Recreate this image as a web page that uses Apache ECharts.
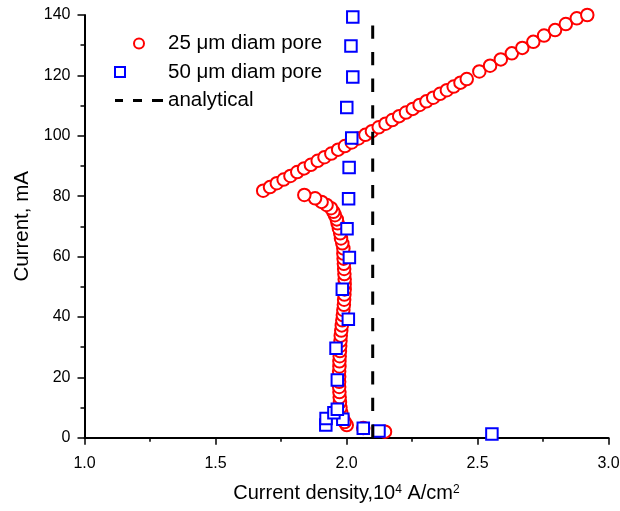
<!DOCTYPE html>
<html>
<head>
<meta charset="utf-8">
<script src="https://cdn.jsdelivr.net/npm/echarts@6/dist/echarts.min.js"></script>
<style>
  html, body { margin: 0; padding: 0; background: #fff; }
  #chart { width: 620px; height: 511px; }
</style>
</head>
<body>
<div id="chart"></div>
<script>
var seriesNames = ['25 \u03bcm diam pore', '50 \u03bcm diam pore', 'analytical'];

// 25 um pore, lower (S shaped) branch, read bottom to top
var pore25Lower = [
    [2.147, 2.0], [2.064, 3.2], [2.001, 4.2], [1.993, 5.2], [1.986, 6.6],
    [1.980, 8.3], [1.977, 10.0], [1.975, 11.7], [1.974, 13.4], [1.973, 15.1],
    [1.972, 16.8], [1.972, 18.5], [1.972, 20.2], [1.972, 21.9], [1.973, 23.6],
    [1.973, 25.3], [1.974, 27.0], [1.975, 28.7], [1.976, 30.4], [1.977, 32.1],
    [1.978, 33.8], [1.980, 35.5], [1.982, 37.2], [1.984, 38.9], [1.986, 40.6],
    [1.988, 42.3], [1.990, 44.0], [1.991, 45.7], [1.992, 47.4], [1.993, 49.1],
    [1.993, 50.8], [1.993, 52.5], [1.992, 54.2], [1.991, 55.9], [1.990, 57.6],
    [1.989, 59.3], [1.988, 61.0], [1.988, 62.7], [1.984, 64.4], [1.979, 66.0],
    [1.976, 67.7], [1.971, 69.3], [1.966, 71.0], [1.963, 72.3], [1.956, 73.7],
    [1.950, 74.8], [1.941, 76.0], [1.924, 77.1], [1.905, 78.1], [1.880, 79.3],
    [1.839, 80.4]
];

// 25 um pore, upper (straight) branch
var pore25Upper = [
    [1.682, 81.8], [1.708, 83.0], [1.734, 84.3], [1.760, 85.5], [1.786, 86.7],
    [1.812, 88.0], [1.838, 89.2], [1.864, 90.4], [1.890, 91.7], [1.916, 92.9],
    [1.942, 94.1], [1.968, 95.4], [1.994, 96.6], [2.020, 97.8], [2.046, 99.1],
    [2.072, 100.3], [2.097, 101.5], [2.123, 102.8], [2.149, 104.0], [2.175, 105.2],
    [2.201, 106.5], [2.227, 107.7], [2.253, 108.9], [2.279, 110.2], [2.305, 111.4],
    [2.331, 112.6], [2.357, 113.9], [2.383, 115.1], [2.409, 116.3], [2.435, 117.6],
    [2.459, 118.8], [2.507, 121.3], [2.548, 123.2], [2.589, 125.3], [2.631, 127.3],
    [2.671, 129.1], [2.713, 131.1], [2.754, 133.2], [2.796, 135.0], [2.837, 137.0],
    [2.879, 138.9], [2.919, 140.0]
];

// 50 um pore
var pore50 = [
    [2.555, 1.2], [2.124, 2.2], [2.064, 3.1], [1.921, 4.2], [1.986, 6.1],
    [1.922, 6.4], [1.952, 8.3], [1.965, 9.4], [1.965, 19.1], [1.960, 29.6],
    [2.007, 39.2], [1.984, 49.2], [2.011, 59.7], [2.002, 69.2], [2.008, 79.1],
    [2.010, 89.5], [2.020, 99.3], [2.001, 109.4], [2.024, 119.5], [2.017, 129.7],
    [2.024, 139.3]
];

// analytical limit
var analytical = [[2.1, 0], [2.1, 140]];

var font = 'Liberation Sans, Arial, sans-serif';
var chart = echarts.init(document.getElementById('chart'));

var option = {
    backgroundColor: '#fff',
    animation: false,
    grid: {
        left: 84.5,
        right: 11.5,
        top: 15,
        bottom: 73.3,
        containLabel: false,
        outerBoundsMode: 'none'
    },
    legend: {
        orient: 'vertical',
        left: 114,
        top: 33,
        padding: 0,
        itemWidth: 48,
        itemHeight: 10,
        itemGap: 7.5,
        textStyle: { fontFamily: font, fontSize: 20.5, color: '#000', lineHeight: 20 },
        data: [
            { name: seriesNames[0], icon: 'emptyCircle' },
            { name: seriesNames[1], icon: 'emptySquare' },
            {
                name: seriesNames[2],
                icon: 'path://M0,0H8V3H0Z M18,0H27V3H18Z M37,0H48V3H37Z',
                itemStyle: { color: '#000' }
            }
        ]
    },
    xAxis: {
        type: 'value',
        min: 1,
        max: 3,
        interval: 0.5,
        name: 'Current density,10{sup|4} A/cm{sup|2}',
        nameLocation: 'middle',
        nameGap: 46,
        nameTextStyle: {
            fontFamily: font,
            fontSize: 20,
            color: '#000',
            rich: {
                sup: { fontFamily: font, fontSize: 12, color: '#000', verticalAlign: 'top' }
            }
        },
        axisLine: { lineStyle: { color: '#000', width: 2 } },
        axisTick: { inside: false, length: 7, lineStyle: { color: '#000', width: 1.5 } },
        minorTick: { show: true, splitNumber: 2, length: 4, lineStyle: { color: '#000', width: 1.5 } },
        splitLine: { show: false },
        axisLabel: {
            margin: 18,
            fontFamily: font,
            fontSize: 16,
            color: '#000',
            formatter: function (v) { return v.toFixed(1); }
        }
    },
    yAxis: {
        type: 'value',
        min: 0,
        max: 140,
        interval: 20,
        name: 'Current, mA',
        nameLocation: 'middle',
        nameGap: 51,
        nameTextStyle: { fontFamily: font, fontSize: 20.5, color: '#000' },
        axisLine: { show: true, lineStyle: { color: '#000', width: 2 } },
        axisTick: { show: true, inside: false, length: 7, lineStyle: { color: '#000', width: 1.5 } },
        minorTick: { show: true, splitNumber: 2, length: 4, lineStyle: { color: '#000', width: 1.5 } },
        splitLine: { show: false },
        axisLabel: { margin: 14, fontFamily: font, fontSize: 16, color: '#000' }
    },
    series: [
        {
            name: seriesNames[0],
            type: 'scatter',
            symbol: 'emptyCircle',
            symbolSize: 12.5,
            itemStyle: { color: '#ff0000', borderColor: '#ff0000', borderWidth: 1, opacity: 1 },
            emphasis: { disabled: true },
            data: pore25Lower.concat(pore25Upper)
        },
        {
            name: seriesNames[1],
            type: 'scatter',
            symbol: 'emptyRect',
            symbolSize: 11.5,
            itemStyle: { color: '#0000ff', borderColor: '#0000ff', borderWidth: 1, opacity: 1 },
            emphasis: { disabled: true },
            data: pore50
        },
        {
            name: seriesNames[2],
            type: 'line',
            symbol: 'none',
            lineStyle: { color: '#000', width: 3, type: [13.3, 13.3] },
            itemStyle: { color: '#000' },
            emphasis: { disabled: true },
            data: analytical
        }
    ]
};

chart.setOption(option);
</script>
</body>
</html>
